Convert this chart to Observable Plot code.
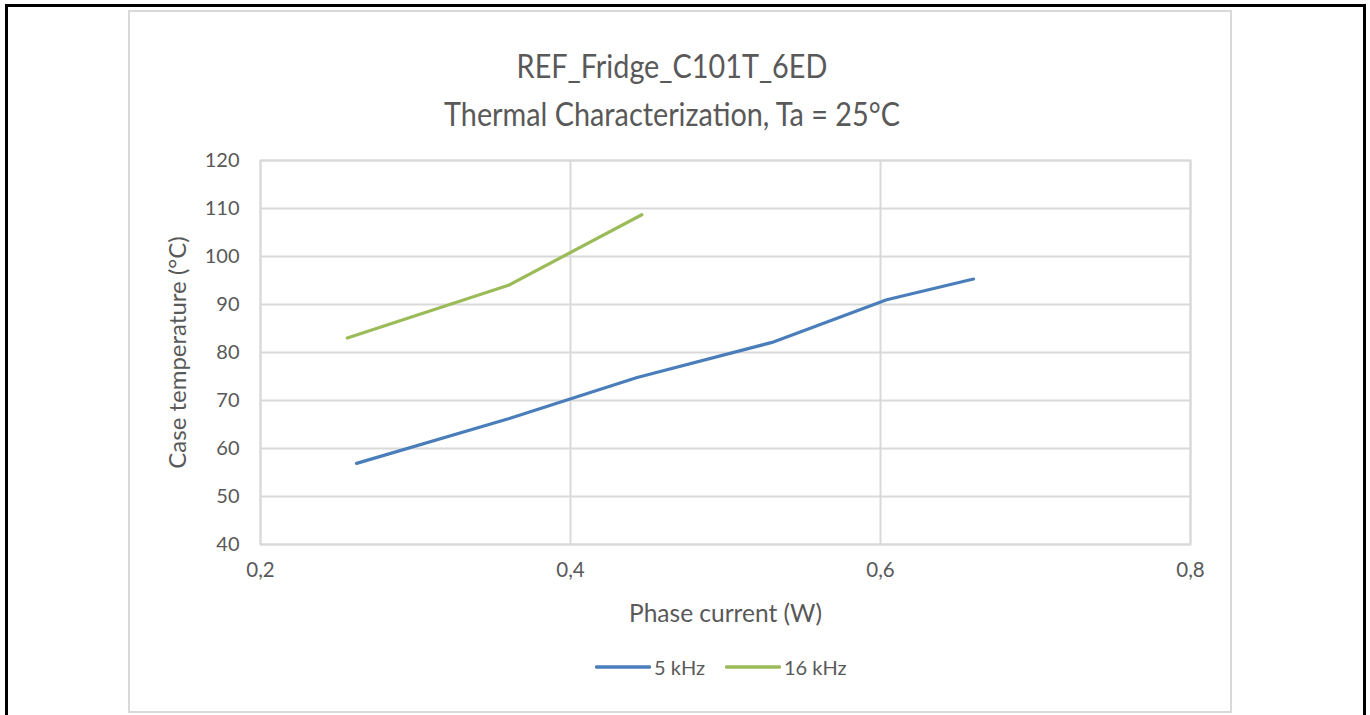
<!DOCTYPE html>
<html>
<head>
<meta charset="utf-8">
<script src="https://cdn.jsdelivr.net/npm/d3@7"></script>
<script src="https://cdn.jsdelivr.net/npm/@observablehq/plot@0.6"></script>
<style>
  html, body { margin: 0; padding: 0; background: #fff; overflow: hidden; }
  body { width: 1370px; height: 715px; position: relative; font-family: Lato, "Open Sans", sans-serif; color: #595959; }
  #outer { position: absolute; left: 5px; top: 4px; width: 1361px; height: 800px; border: 3px solid #000; box-sizing: border-box; }
  #box { position: absolute; left: 128px; top: 10px; width: 1104px; height: 703px; border: 2px solid #d9d9d9; box-sizing: border-box; }
  #title { position: absolute; left: 372px; width: 600px; top: 41.6px; text-align: center; font-size: 32px; line-height: 48px; color: #595959; white-space: nowrap; transform: scaleX(0.9); transform-origin: 50% 50%; }
  #chart { position: absolute; left: 128px; top: 140px; }
  #legend { position: absolute; left: 595px; top: 655px; height: 24px; display: flex; align-items: center; font-size: 20px; color: #595959; white-space: nowrap; }
  #legend svg { display: block; }
</style>
</head>
<body>
<div id="outer"></div>
<div id="box"></div>
<div id="title">REF_Fridge_C101T_6ED<br>Thermal Characterization, Ta = 25°C</div>
<div id="chart"></div>
<div id="legend"></div>
<script>
// Data
const seriesNames = ["5 kHz", "16 kHz"];
const seriesColors = ["#4a7ebb", "#9bbb59"];
const xBlue = [0.262, 0.360, 0.443, 0.530, 0.604, 0.660];
const yBlue = [56.9, 66.2, 74.8, 82.1, 91.0, 95.3];
const xGreen = [0.256, 0.360, 0.446];
const yGreen = [83.0, 94.0, 108.7];
const xTicks = [0.2, 0.4, 0.6, 0.8];
const yTicks = [40, 50, 60, 70, 80, 90, 100, 110, 120];
const xLabel = "Phase current (W)";
const yLabel = "Case temperature (°C)";

const blue = xBlue.map((x, i) => ({x, y: yBlue[i], s: seriesNames[0]}));
const green = xGreen.map((x, i) => ({x, y: yGreen[i], s: seriesNames[1]}));

const grid = "#d9d9d9";
const fmt = d => d.toFixed(1).replace(".", ",");

const plot = Plot.plot({
  width: 1100,
  height: 490,
  marginLeft: 132,
  marginTop: 20,
  marginRight: 38,
  marginBottom: 86,
  style: {fontFamily: "Lato, 'Open Sans', sans-serif", fontSize: "20px", color: "#595959", background: "transparent"},
  x: {domain: [0.2, 0.8], ticks: xTicks},
  y: {domain: [40, 120], ticks: yTicks},
  marks: [
    Plot.gridX(xTicks, {stroke: grid, strokeOpacity: 1, strokeWidth: 2}),
    Plot.gridY(yTicks, {stroke: grid, strokeOpacity: 1, strokeWidth: 2}),
    Plot.frame({stroke: grid, strokeWidth: 2}),
    Plot.axisX(xTicks, {tickSize: 0, tickPadding: 18, tickFormat: fmt, label: null, fontSize: 20.5}),
    Plot.axisY(yTicks, {tickSize: 0, tickPadding: 21, label: null, fontSize: 20}),
    Plot.text([xLabel], {frameAnchor: "bottom", dy: 70, lineAnchor: "middle", fontSize: 24.5, fill: "#595959"}),
    Plot.text([yLabel], {frameAnchor: "left", dx: -82, rotate: -90, textAnchor: "middle", lineAnchor: "middle", fontSize: 24, fill: "#595959"}),
    Plot.line(blue, {x: "x", y: "y", stroke: seriesColors[0], strokeWidth: 3.2, strokeLinecap: "round", strokeLinejoin: "round"}),
    Plot.line(green, {x: "x", y: "y", stroke: seriesColors[1], strokeWidth: 3.2, strokeLinecap: "round", strokeLinejoin: "round"})
  ]
});
document.getElementById("chart").appendChild(plot);

// Legend
const legend = document.getElementById("legend");
seriesNames.forEach((name, i) => {
  const ns = "http://www.w3.org/2000/svg";
  const svg = document.createElementNS(ns, "svg");
  svg.setAttribute("width", 56);
  svg.setAttribute("height", 20);
  const ln = document.createElementNS(ns, "line");
  ln.setAttribute("x1", 1.5); ln.setAttribute("x2", 54.5);
  ln.setAttribute("y1", 10); ln.setAttribute("y2", 10);
  ln.setAttribute("stroke", seriesColors[i]);
  ln.setAttribute("stroke-width", 3.5);
  ln.setAttribute("stroke-linecap", "round");
  svg.appendChild(ln);
  const span = document.createElement("span");
  span.textContent = name;
  span.style.marginLeft = "3px";
  span.style.marginRight = i === 0 ? "20px" : "0";
  legend.appendChild(svg);
  legend.appendChild(span);
});
</script>
</body>
</html>
